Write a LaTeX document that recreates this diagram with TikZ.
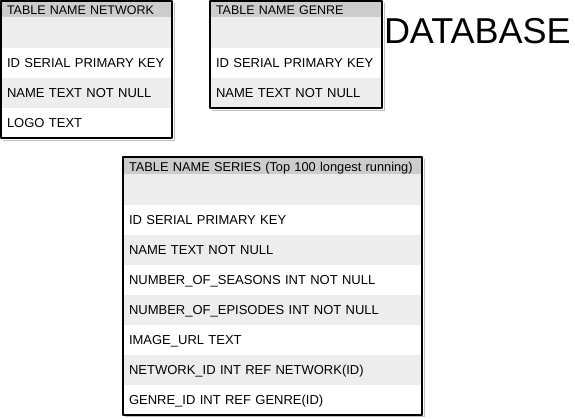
\documentclass[tikz,border=0pt]{standalone}
\usepackage{fontspec}
\setmainfont{Liberation Sans}
\begin{document}
\begin{tikzpicture}[x=1pt, y=-1pt,
  every node/.style={anchor=north west, inner xsep=6pt, inner ysep=0pt, outer sep=0pt, text height=10.3pt, text depth=1.7pt},
  headrow/.style={fill=black!20, minimum height=16pt, font=\fontsize{12.5}{14}\selectfont, text width=#1, text height=11.5pt, text depth=0.5pt},
  graycell/.style={fill=black!7, minimum height=30pt, font=\fontsize{13}{15}\selectfont, text width=#1},
  whitecell/.style={fill=white, minimum height=30pt, font=\fontsize{13}{15}\selectfont, text width=#1},
  frame/.style={draw=black, line width=1.6pt, line join=round},
  shade/.style={draw=black!25, line width=0.8pt}]
\useasboundingbox (0,0) rectangle (575,418);

% Network table top to bottom
\node[headrow=159] (nethead) at (1,1) {TABLE NAME NETWORK};
\node[graycell=159, minimum height=31pt] (netblank) at (1,17) {};
\node[whitecell=159] (netid) at (1,48) {ID SERIAL PRIMARY KEY};
\node[graycell=159] (netname) at (1,78) {NAME TEXT NOT NULL};
\node[whitecell=159] (netlogo) at (1,108) {LOGO TEXT};

% Genre table top to bottom
\node[headrow=160] (genhead) at (210,1) {TABLE NAME GENRE};
\node[graycell=160, minimum height=31pt] (genblank) at (210,17) {};
\node[whitecell=160] (genid) at (210,48) {ID SERIAL PRIMARY KEY};
\node[graycell=160] (genname) at (210,78) {NAME TEXT NOT NULL};

% Title
\node[anchor=base west, inner sep=0pt, text height=, text depth=, font=\fontsize{36}{40}\selectfont] (dbtitle) at (384,43) {DATABASE};

% Series table top to bottom
\node[headrow=287, minimum height=17pt, font=\fontsize{12.8}{15}\selectfont] (serhead) at (123,157) {\mbox{TABLE NAME SERIES (Top 100 longest running)}};
\node[graycell=287, minimum height=31pt] (serblank) at (123,174) {};
\node[whitecell=287] (serid) at (123,205) {ID SERIAL PRIMARY KEY};
\node[graycell=287] (sername) at (123,235) {NAME TEXT NOT NULL};
\node[whitecell=287] (serseasons) at (123,265) {NUMBER\_OF\_SEASONS INT NOT NULL};
\node[graycell=287] (serepisodes) at (123,295) {NUMBER\_OF\_EPISODES INT NOT NULL};
\node[whitecell=287] (serimage) at (123,325) {IMAGE\_URL TEXT};
\node[graycell=287] (sernetwork) at (123,355) {NETWORK\_ID INT REF NETWORK(ID)};
\node[whitecell=287] (sergenre) at (123,385) {GENRE\_ID INT REF GENRE(ID)};

% Sketchy shadows and frames
\draw[shade] ([shift={(2,2)}]nethead.north east) -- ([shift={(2,2)}]netlogo.south east) -- ([shift={(2,2)}]netlogo.south west);
\draw[shade] ([shift={(2,2)}]genhead.north east) -- ([shift={(2,2)}]genname.south east) -- ([shift={(2,2)}]genname.south west);
\draw[shade] ([shift={(2,2)}]serhead.north east) -- ([shift={(2,1)}]sergenre.south east) -- ([shift={(2,1)}]sergenre.south west);
\draw[frame] (nethead.north west) rectangle (netlogo.south east);
\draw[frame] (genhead.north west) rectangle (genname.south east);
\draw[frame] (serhead.north west) rectangle (sergenre.south east);
\end{tikzpicture}
\end{document}
